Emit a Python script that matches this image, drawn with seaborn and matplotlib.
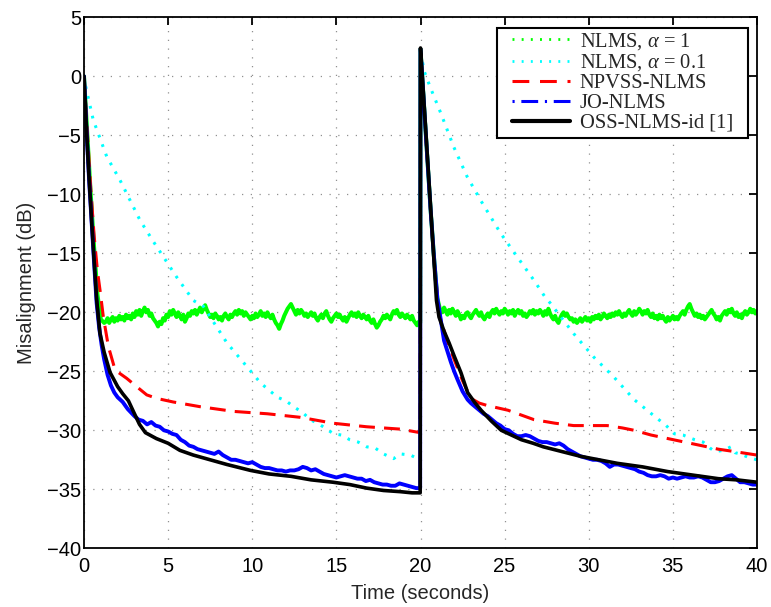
import numpy as np
import pandas as pd
import matplotlib
matplotlib.use("Agg")
import matplotlib.pyplot as plt
from matplotlib.patches import Rectangle
from matplotlib.lines import Line2D
from matplotlib.transforms import IdentityTransform
import seaborn as sns

# ---------------- data ----------------
# OSS-NLMS-id [1] (black)
black_t = [0, 0.15, 0.3, 0.45, 0.6, 0.75, 0.95, 1.2, 1.55, 2.0, 2.3, 2.64, 3.0, 3.3, 3.65,
           4.3, 5.0, 5.7, 6.5, 7.5, 8.5, 9.9, 11.0, 12.3, 13.5, 14.8, 15.8, 16.8, 17.8, 18.8, 19.5, 19.98,
           20.0, 20.2, 20.4, 20.6, 20.8, 20.95, 21.1, 21.4, 21.7, 22.0, 22.4, 22.8, 23.2, 23.6, 24.2, 24.8,
           25.4, 26.0, 26.7, 27.3, 28.4, 29.5, 30.6, 31.7, 33.2, 34.7, 36.2, 37.7, 38.8, 40.0]
black_y = [0, -4.6, -8.6, -12.2, -15.6, -18.9, -21.8, -23.4, -25.1, -26.3, -26.9, -27.5, -28.6, -29.5, -30.2,
           -30.7, -31.1, -31.7, -32.1, -32.5, -32.9, -33.4, -33.7, -33.9, -34.2, -34.4, -34.6, -34.9, -35.1, -35.2, -35.3, -35.3,
           2.4, -2.1, -6.6, -11.1, -15.6, -19.0, -20.4, -21.6, -22.6, -23.7, -25.1, -26.8, -27.6, -28.3, -29.2, -30.0,
           -30.4, -30.8, -31.1, -31.4, -31.8, -32.2, -32.5, -32.8, -33.1, -33.5, -33.8, -34.1, -34.2, -34.4]

# NPVSS-NLMS (red)
red_t = [0, 0.2, 0.4, 0.6, 0.8, 0.95, 1.15, 1.45, 1.85, 2.54, 3.13, 3.73, 4.33, 5.3, 6.9, 8.9, 10.9,
         12.86, 14.8, 16.8, 18.8, 19.98,
         20.0, 20.2, 20.4, 20.6, 20.8, 21.0, 21.2, 21.6, 22.0, 22.5, 23.0, 23.5, 23.97, 25.2, 26.75, 28.0,
         29.1, 30.1, 31.1, 32.0, 32.7, 33.7, 34.7, 35.7, 36.7, 37.7, 38.65, 40.0]
red_y = [0, -4.8, -9.5, -13.5, -16.5, -18.1, -20.4, -22.9, -24.9, -25.6, -26.3, -27.0, -27.3, -27.6, -28.0, -28.4, -28.6,
         -28.9, -29.4, -29.7, -29.9, -30.2,
         2.3, -2.5, -7.0, -11.5, -15.5, -18.5, -20.6, -22.5, -24.0, -25.8, -27.3, -27.7, -27.9, -28.3, -29.1, -29.4,
         -29.6, -29.6, -29.6, -29.8, -30.0, -30.4, -30.7, -31.0, -31.3, -31.6, -31.8, -32.1]

# JO-NLMS (blue): fast start, noisy middle part every 0.25 s
blue_start_t = [0, 0.15, 0.3, 0.45, 0.6, 0.75, 0.9, 1.05, 1.2, 1.4, 1.6, 1.8, 2.0, 2.3, 2.6]
blue_start_y = [0, -4.6, -8.7, -12.3, -15.8, -19.2, -21.3, -22.8, -24.0, -25.3, -26.2, -26.8, -27.2, -27.6, -28.2]
blue_mid1 = [-28.8, -29.1, -29.2, -29.5, -29.3, -29.6, -29.7, -30.0, -30.1, -30.3, -30.4, -30.8, -31.0, -31.3,
             -31.4, -31.6, -31.7, -31.8, -31.9, -32.0, -31.8, -32.1, -32.3, -32.5, -32.5, -32.6, -32.7, -32.8,
             -32.7, -32.9, -33.1, -33.2, -33.2, -33.3, -33.4, -33.4, -33.5, -33.4, -33.4, -33.3, -33.1, -33.2,
             -33.4, -33.3, -33.5, -33.7, -33.8, -33.9, -34.0, -33.9, -33.8, -33.9, -34.0, -34.1, -34.1, -34.3,
             -34.2, -34.4, -34.5, -34.6, -34.6, -34.7, -34.7, -34.5, -34.6, -34.7, -34.8, -34.9]   # from 3.0 s
blue_jump_t = [19.98, 20.0, 20.2, 20.4, 20.6, 20.8, 21.0, 21.2, 21.4, 21.6, 21.8, 22.0, 22.2, 22.5, 22.8]
blue_jump_y = [-34.9, 2.3, -2.3, -6.8, -11.3, -15.3, -18.8, -20.6, -22.4, -23.3, -24.2, -25.0, -25.7, -26.7, -27.4]
blue_mid2 = [-27.7, -28.0, -28.3, -28.6, -28.8, -29.1, -29.4, -29.6, -29.9, -30.0, -30.3, -30.5, -30.5, -30.4,
             -30.5, -30.7, -30.9, -31.0, -31.0, -31.1, -31.2, -31.1, -31.3, -31.6, -31.8, -32.0, -32.2, -32.3,
             -32.4, -32.5, -32.5, -32.6, -32.8, -33.1, -32.9, -32.9, -33.0, -33.1, -33.2, -33.3, -33.5, -33.6,
             -33.8, -33.9, -33.9, -33.8, -33.9, -34.1, -34.0, -34.1, -34.0, -33.9, -34.0, -34.0, -33.9, -34.0,
             -34.2, -34.4, -34.4, -34.3, -34.1, -33.9, -33.8, -34.1, -34.4, -34.4, -34.5, -34.6, -34.6]   # from 23.0 s

# NLMS, alpha = 0.1 (cyan)
cyan_t = [0, 0.06, 0.55, 1.35, 2.14, 3.33, 4.12, 4.72, 5.5, 6.5, 7.1, 8.5, 9.68, 10.5, 11.5, 12.0, 12.46,
          13.0, 13.45, 14.0, 14.84, 15.3, 15.8, 16.3, 16.8, 17.3, 17.8, 18.4, 18.8, 19.4, 19.98,
          20.0, 20.2, 20.6, 21.2, 21.98, 22.77, 23.57, 24.76, 25.65, 26.75, 27.4, 27.7, 29.1, 30.3, 31.5,
          32.7, 33.9, 34.6, 35.1, 35.6, 36.3, 36.8, 37.2, 37.5, 38.0, 38.45, 38.7, 39.0, 39.5, 40.0]
cyan_y = [0, -0.6, -3.7, -6.8, -8.8, -12.2, -14.0, -15.3, -17.0, -19.0, -19.5, -22.6, -24.6, -26.0, -27.2, -27.5, -28.0,
          -28.5, -29.1, -29.5, -30.3, -30.4, -30.8, -31.0, -31.4, -31.5, -32.0, -32.4, -32.0, -32.1, -32.5,
          2.3, 0.5, -1.0, -3.1, -6.0, -8.5, -10.5, -13.3, -15.1, -17.3, -18.7, -19.2, -21.8, -23.8, -25.5,
          -27.4, -28.8, -29.6, -30.3, -30.4, -30.8, -31.0, -31.5, -31.8, -31.7, -31.4, -31.9, -32.0, -32.3, -32.5]

# NLMS, alpha = 1 (green): fast start, noisy floor every 0.1 s
green_start_t = [0, 0.2, 0.4, 0.6, 0.8, 1.0, 1.2]
green_start_y = [0, -5.0, -10.0, -14.5, -18.5, -20.6, -20.9]
green_mid1 = [   # from 1.3 s to 19.9 s
    -20.8, -20.5, -20.9, -20.6, -20.4, -20.8, -20.5, -20.7, -20.3, -20.6,
    -20.4, -20.7, -20.2, -20.5, -20.3, -20.6, -20.1, -20.4, -19.9, -20.2,
    -19.8, -20.3, -19.9, -19.6, -20.0, -19.8, -20.3, -20.1, -20.5, -20.7,
    -20.9, -21.2, -20.8, -21.0, -20.5, -20.7, -20.2, -20.4, -19.9, -20.2,
    -19.8, -20.1, -20.4, -20.0, -20.3, -20.6, -20.2, -20.8, -20.5, -20.1,
    -20.3, -19.9, -20.1, -19.8, -20.2, -19.9, -19.6, -20.0, -19.7, -19.4,
    -19.8, -20.1, -20.4, -20.2, -20.5, -20.1, -20.3, -20.6, -20.4, -20.7,
    -20.3, -20.1, -20.4, -20.6, -20.2, -20.4, -20.1, -19.9, -20.2, -19.8,
    -20.1, -19.9, -20.3, -20.0, -20.2, -20.4, -20.6, -20.3, -20.5, -20.1,
    -20.4, -20.2, -19.9, -20.3, -20.1, -20.4, -20.0, -20.3, -20.5, -20.2,
    -20.6, -20.9, -21.1, -21.4, -21.0, -20.7, -20.3, -20.0, -19.7, -19.5,
    -19.3, -19.6, -19.9, -20.2, -19.8, -20.1, -19.8, -20.0, -20.3, -20.1,
    -20.4, -20.2, -20.0, -20.3, -20.1, -20.5, -20.7, -20.4, -20.2, -20.5,
    -20.1, -19.9, -20.3, -20.6, -20.8, -20.5, -20.3, -20.1, -20.4, -20.2,
    -20.5, -20.7, -20.4, -20.8, -20.5, -20.2, -20.0, -20.3, -20.1, -20.4,
    -20.0, -20.3, -20.5, -20.2, -20.4, -20.6, -20.3, -20.7, -20.9, -20.6,
    -21.0, -21.3, -21.1, -20.8, -20.6, -20.3, -20.5, -20.2, -20.4, -20.6,
    -20.2, -19.9, -20.1, -19.8, -20.2, -20.4, -20.1, -20.3, -20.5, -20.2,
    -20.4, -20.6, -20.3, -20.7, -20.9, -21.1, -20.8]
green_jump_t = [19.98, 20.0, 20.2, 20.4, 20.6, 20.8, 21.0, 21.2]
green_jump_y = [-20.9, 2.3, -2.3, -6.8, -11.3, -15.3, -18.8, -20.0]
green_mid2 = [   # from 21.3 s to 40.0 s
    -20.0, -19.6, -19.9, -20.2, -19.8, -20.1, -19.7, -20.0, -20.3, -19.9,
    -20.2, -20.6, -20.3, -20.5, -20.1, -20.0, -20.3, -20.5, -20.2, -20.0,
    -19.8, -20.1, -20.3, -20.0, -20.4, -20.6, -20.3, -20.1, -20.4, -20.0,
    -19.8, -20.1, -19.7, -20.0, -20.2, -19.9, -20.1, -19.7, -19.9, -20.2,
    -19.9, -20.1, -19.8, -20.3, -20.0, -19.8, -20.1, -19.9, -20.3, -20.1,
    -20.4, -20.2, -19.9, -20.1, -19.8, -20.2, -19.9, -20.1, -19.8, -20.0,
    -20.3, -19.9, -20.2, -19.7, -20.1, -20.4, -20.6, -20.3, -20.7, -20.9,
    -20.5, -20.2, -20.0, -20.3, -20.1, -20.4, -20.6, -20.5, -20.8, -20.6,
    -20.9, -20.7, -20.5, -20.8, -20.6, -20.4, -20.7, -20.5, -20.8, -20.4,
    -20.6, -20.3, -20.5, -20.2, -20.6, -20.4, -20.1, -20.3, -20.5, -20.2,
    -20.4, -20.1, -20.3, -20.0, -20.2, -19.9, -20.2, -20.4, -20.1, -20.3,
    -20.0, -19.8, -20.1, -20.3, -19.9, -20.2, -20.0, -19.7, -19.9, -20.2,
    -19.9, -20.1, -19.8, -20.2, -20.4, -20.1, -20.5, -20.3, -20.6, -20.2,
    -20.5, -20.3, -20.6, -20.8, -20.4, -20.7, -20.5, -20.3, -20.6, -20.4,
    -20.6, -20.3, -20.1, -19.9, -20.2, -19.8, -19.5, -19.3, -19.7, -20.0,
    -20.3, -20.1, -20.4, -20.2, -20.5, -20.3, -20.6, -20.4, -20.2, -20.0,
    -19.8, -20.1, -20.3, -20.6, -20.4, -20.7, -20.3, -20.1, -19.9, -20.2,
    -19.8, -20.0, -19.7, -20.1, -20.3, -20.0, -20.4, -20.2, -20.5, -20.1,
    -19.9, -20.2, -20.0, -19.7, -20.0, -19.8, -20.1, -19.9]

labels = ["NLMS, $\\alpha$ = 1", "NLMS, $\\alpha$ = 0.1", "NPVSS-NLMS", "JO-NLMS", "OSS-NLMS-id [1]"]
x_ticks = [0, 5, 10, 15, 20, 25, 30, 35, 40]
y_ticks = [-40, -35, -30, -25, -20, -15, -10, -5, 0, 5]


def sampled(start, step, vals):
    return [round(start + i * step, 3) for i in range(len(vals))]


green_t = green_start_t + sampled(1.3, 0.1, green_mid1) + green_jump_t + sampled(21.3, 0.1, green_mid2)
green_y = green_start_y + green_mid1 + green_jump_y + green_mid2
blue_t = blue_start_t + sampled(3.0, 0.25, blue_mid1) + blue_jump_t + sampled(23.0, 0.25, blue_mid2)
blue_y = blue_start_y + blue_mid1 + blue_jump_y + blue_mid2

# ---------------- plotting ----------------
sns.set_theme(style="white")
plt.rcParams["font.family"] = ["Liberation Sans", "DejaVu Sans"]
plt.rcParams["mathtext.fontset"] = "custom"
plt.rcParams["mathtext.it"] = "Liberation Serif:italic"
plt.rcParams["mathtext.rm"] = "Liberation Serif"

fig = plt.figure(figsize=(7.71, 6.07), dpi=100)
ax = fig.add_axes([84 / 771, 1 - 548.3 / 607, (757 - 84) / 771, (548.3 - 17.3) / 607])

# (t, y, colour, data linestyle, data lw, legend linestyle, legend lw)
series = [
    (green_t, green_y, "#00ff00", "-", 2.9, (0, (0.7, 2.6)), 2.0),
    (cyan_t, cyan_y, "#00ffff", (0, (0.9, 2.4)), 2.2, (0, (0.7, 2.6)), 2.0),
    (red_t, red_y, "#ff0000", (0, (5.2, 3.0)), 2.2, (0, (5.5, 3.5)), 2.2),
    (blue_t, blue_y, "#0000ff", "-", 2.8, (0, (0.7, 2.2, 5.5, 2.2)), 2.2),
    (black_t, black_y, "#000000", "-", 2.6, "-", 3.0),
]
handles = []
for (t, y, col, ls, lw, lls, llw), lab in zip(series, labels):
    df = pd.DataFrame({"t": t, "y": y})
    sns.lineplot(data=df, x="t", y="y", ax=ax, color=col, linewidth=lw,
                 estimator=None, sort=False)
    ax.get_lines()[-1].set_linestyle(ls)
    handles.append(Line2D([], [], color=col, linestyle=lls, linewidth=llw))

ax.set_xlim(0, 40)
ax.set_ylim(-40, 5)
ax.set_xticks(x_ticks)
ax.set_yticks(y_ticks)
ax.set_xticklabels([str(v) for v in x_ticks])
ax.set_yticklabels([str(v).replace("-", "\u2212") for v in y_ticks])
ax.grid(True, color="#909090", linestyle=(0, (1, 6)), linewidth=0.9)
ax.tick_params(direction="in", length=6, width=1.3, top=True, right=True,
               labelsize=14.5, colors="black")
ax.tick_params(axis="y", pad=2)
ax.tick_params(axis="x", pad=6)
for sp in ax.spines.values():
    sp.set_visible(True)
    sp.set_color("black")
    sp.set_linewidth(1.3)
ax.set_xlabel("Time (seconds)", fontsize=14.5, labelpad=6)
ax.set_ylabel("Misalignment (dB)", fontsize=14.5, labelpad=8)

leg = ax.legend(handles=handles, labels=labels, loc="upper right",
                bbox_to_anchor=((736 - 84) / 673, 1 - (28 - 17.3) / 531), borderaxespad=0,
                prop={"family": "Liberation Serif", "size": 14.8},
                frameon=False, handlelength=2.82, handletextpad=0.49, labelspacing=0.02,
                borderpad=0.15)
leg.set_zorder(6)

# legend frame: wider horizontal padding than matplotlib's uniform borderpad
fig.canvas.draw()
bb = leg.get_window_extent(fig.canvas.get_renderer())
frame = Rectangle((bb.x0 - 11.5, bb.y0 - 2), bb.width + 23, bb.height + 2, transform=IdentityTransform(),
                  facecolor="white", edgecolor="black", linewidth=1.5, zorder=5.5, clip_on=False)
ax.add_patch(frame)

fig.savefig("out.png", dpi=100)
